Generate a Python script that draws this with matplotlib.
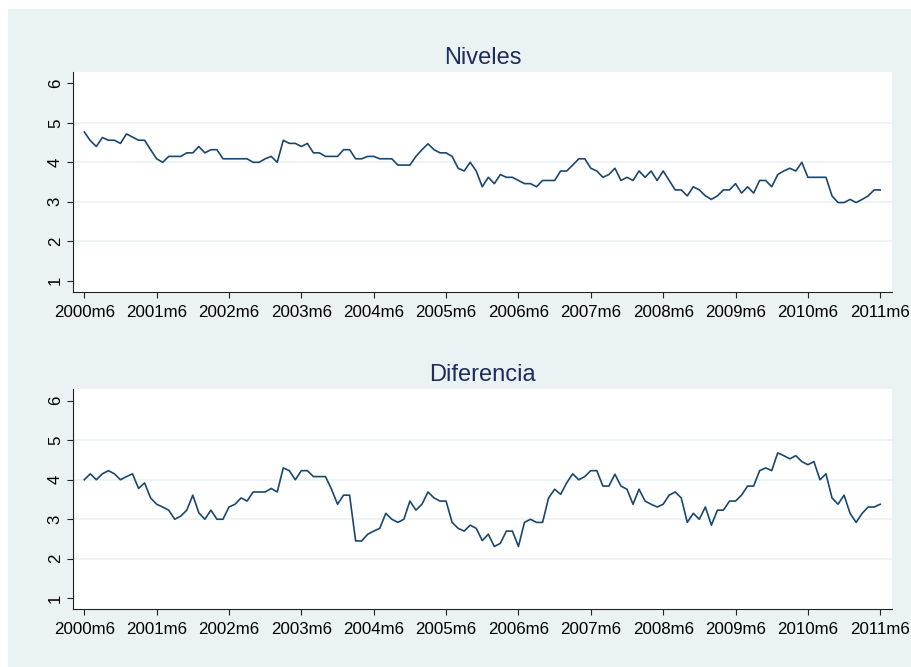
import matplotlib
matplotlib.use("Agg")
import matplotlib.pyplot as plt
from matplotlib.patches import Rectangle
import numpy as np

# monthly series, 2000m6 .. 2011m6
niveles = [
    4.77, 4.55, 4.40, 4.63, 4.56, 4.56, 4.48, 4.72, 4.64, 4.56, 4.56, 4.32,
    4.09, 4.00, 4.15, 4.15, 4.15, 4.24, 4.24, 4.40, 4.24, 4.32, 4.32, 4.09,
    4.09, 4.09, 4.09, 4.09, 4.00, 4.00, 4.09, 4.15, 4.00, 4.56, 4.48, 4.48,
    4.40, 4.48, 4.24, 4.24, 4.15, 4.15, 4.15, 4.32, 4.32, 4.09, 4.09, 4.15,
    4.15, 4.09, 4.09, 4.09, 3.93, 3.93, 3.93, 4.15, 4.32, 4.47, 4.32, 4.24,
    4.24, 4.15, 3.85, 3.78, 4.00, 3.78, 3.38, 3.62, 3.46, 3.69, 3.62, 3.62,
    3.54, 3.46, 3.46, 3.38, 3.54, 3.54, 3.54, 3.78, 3.78, 3.93, 4.09, 4.09,
    3.85, 3.78, 3.62, 3.69, 3.85, 3.54, 3.62, 3.54, 3.78, 3.62, 3.78, 3.54,
    3.78, 3.54, 3.30, 3.30, 3.15, 3.38, 3.30, 3.15, 3.06, 3.15, 3.30, 3.30,
    3.46, 3.22, 3.38, 3.22, 3.54, 3.54, 3.38, 3.69, 3.78, 3.85, 3.78, 4.00,
    3.62, 3.62, 3.62, 3.62, 3.15, 2.98, 2.98, 3.06, 2.98, 3.06, 3.15, 3.30,
    3.30,
]
diferencia = [
    4.00, 4.15, 4.00, 4.15, 4.23, 4.15, 4.00, 4.08, 4.15, 3.78, 3.92, 3.54,
    3.38, 3.31, 3.23, 3.00, 3.08, 3.23, 3.61, 3.16, 3.00, 3.23, 3.00, 3.00,
    3.31, 3.38, 3.54, 3.46, 3.69, 3.69, 3.69, 3.78, 3.69, 4.30, 4.23, 4.00,
    4.23, 4.23, 4.08, 4.08, 4.08, 3.76, 3.38, 3.61, 3.61, 2.45, 2.45, 2.62,
    2.70, 2.77, 3.15, 3.00, 2.92, 3.00, 3.46, 3.23, 3.38, 3.69, 3.54, 3.46,
    3.46, 2.92, 2.77, 2.70, 2.85, 2.77, 2.46, 2.62, 2.31, 2.39, 2.70, 2.70,
    2.31, 2.92, 3.00, 2.92, 2.92, 3.54, 3.76, 3.63, 3.92, 4.15, 4.00, 4.08,
    4.23, 4.23, 3.84, 3.84, 4.14, 3.84, 3.76, 3.38, 3.76, 3.46, 3.38, 3.31,
    3.38, 3.61, 3.69, 3.54, 2.92, 3.15, 3.00, 3.31, 2.85, 3.23, 3.23, 3.46,
    3.46, 3.61, 3.84, 3.84, 4.23, 4.30, 4.23, 4.68, 4.61, 4.53, 4.61, 4.46,
    4.38, 4.46, 4.00, 4.15, 3.54, 3.38, 3.61, 3.15, 2.92, 3.15, 3.31, 3.31,
    3.38,
]
tick_labels = ["%dm6" % y for y in range(2000, 2012)]
y_ticks = [1, 2, 3, 4, 5, 6]

plt.rcParams['font.family'] = ['Liberation Sans', 'DejaVu Sans']

bg = "#eaf2f3"
navy = "#1a476f"

fig = plt.figure(figsize=(9.12, 6.67), dpi=100, facecolor="white")
fig.patches.append(Rectangle((8 / 912, 0), 1, (667 - 9) / 667,
                             transform=fig.transFigure, facecolor=bg,
                             edgecolor="none", zorder=-10))

months = np.arange(len(niveles))
W, H = 912.0, 667.0


def panel(top, bottom, values, title):
    ax = fig.add_axes([73.3 / W, (H - bottom) / H, (891.7 - 73.3) / W, (bottom - top) / H])
    ax.plot(months, values, color=navy, lw=1.2)
    ax.set_xlim(-1.82, 133.9)
    ax.set_ylim(0.72, 6.29)
    ax.set_xticks(np.arange(0, 133, 12))
    ax.set_xticklabels(tick_labels)
    ax.set_yticks(y_ticks)
    ax.set_yticklabels([str(v) for v in y_ticks], rotation=90, va="center")
    for v in y_ticks[1:-1]:
        ax.axhline(v, color=bg, lw=1.2, zorder=0)

    # only left and bottom axis lines, like Stata
    ax.spines['top'].set_visible(False)
    ax.spines['right'].set_visible(False)
    ax.spines['left'].set_color("#222222")
    ax.spines['bottom'].set_color("#222222")
    ax.tick_params(axis="both", direction="out", length=4.5, width=0.8,
                   color="#222222", labelsize=12.2, labelcolor="black")
    ax.tick_params(axis="x", pad=5)
    ax.tick_params(axis="y", pad=3)
    ax.set_title(title, fontsize=17, color="#1e2d5a", pad=6)
    return ax


panel(72.0, 291.7, niveles, "Niveles")
panel(389.3, 609.3, diferencia, "Diferencia")

fig.savefig("out.png", dpi=100, facecolor=fig.get_facecolor())
